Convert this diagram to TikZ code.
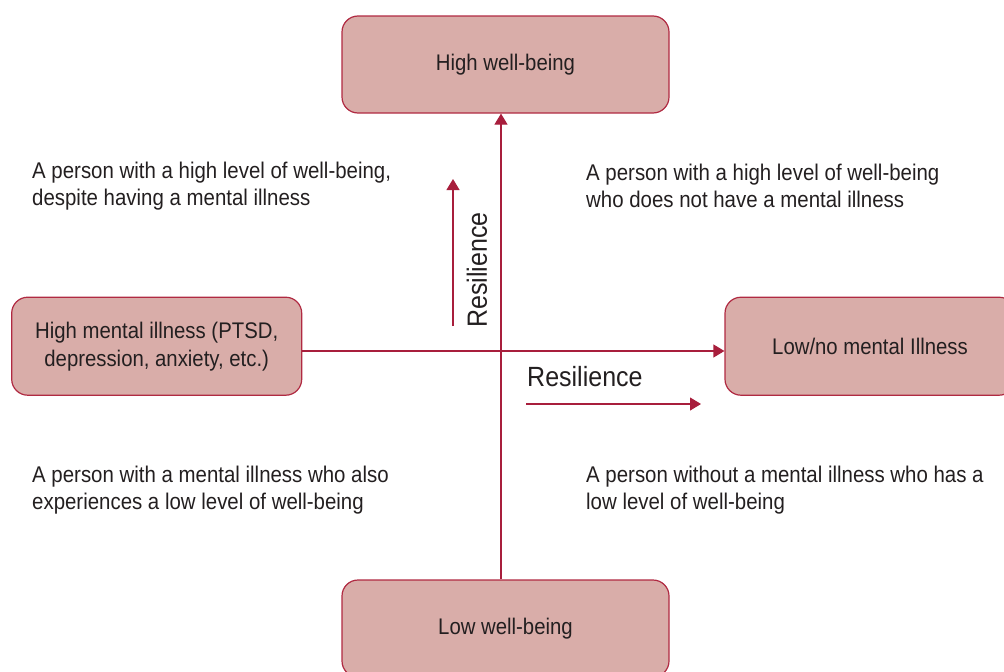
\documentclass[tikz,border=0pt]{standalone}
\usepackage{fontspec}
\setmainfont{Liberation Sans}[FakeStretch=0.9]
\usetikzlibrary{arrows.meta}
\definecolor{boxfill}{HTML}{D9ADA9}
\definecolor{boxline}{HTML}{B02A42}
\definecolor{arrowcol}{HTML}{A81E3C}
\definecolor{txt}{HTML}{231F20}
\tikzset{
  x=1pt,y=-1pt,
  quad/.style={draw=boxline,line width=1.2pt,fill=boxfill,rounded corners=16pt,
    minimum width=327pt,minimum height=97pt,text=txt,align=center,
    font=\fontsize{22.6}{28}\selectfont},
  note/.style={anchor=west,inner sep=0pt,align=left,text=txt,
    font=\fontsize{22.7}{27}\selectfont},
  tip/.style={-{Triangle[length=11pt,width=13pt]}},
  axis/.style={draw=arrowcol,line width=1.2pt,tip},
  resarrow/.style={draw=arrowcol,line width=1.2pt,tip},
  reslabel/.style={inner sep=0pt,text=txt,font=\fontsize{27.8}{30}\selectfont}
}
\begin{document}
\begin{tikzpicture}
\useasboundingbox (0,0) rectangle (1004,672);
\clip (0,0) rectangle (1004,672);
\node[quad] (hw) at (505.5,64.5) {High well-being};
\node[quad,minimum width=290pt,minimum height=98pt] (hmi) at (156.7,346.2) {High mental illness (PTSD,\\depression, anxiety, etc.)};
\node[quad,minimum width=290pt,minimum height=98pt] (lmi) at (870,346.2) {Low/no mental Illness};
\node[quad] (lw) at (505.5,628.5) {Low well-being};
\coordinate (vx) at (501,0);
\coordinate (hy) at (0,351);
\draw[axis] (lw.north -| vx) -- (hw.south -| vx);
\draw[axis] (hmi.east |- hy) -- (lmi.west |- hy);
\coordinate (ua) at (453,326);
\coordinate (ub) at (453,179);
\draw[resarrow] (ua) -- (ub);
\node[reslabel,rotate=90] (rv) at (477,270) {Resilience};
\coordinate (ra) at (526,404);
\coordinate (rb) at (701,404);
\draw[resarrow] (ra) -- (rb);
\node[reslabel,anchor=west] (rh) at (527,377) {Resilience};
\node[note] (tl) at (32,186) {A person with a high level of well-being,\\despite having a mental illness};
\node[note] (tr) at (586,186) {A person with a high level of well-being\\who does not have a mental illness};
\node[note] (bl) at (32,490) {A person with a mental illness who also\\experiences a low level of well-being};
\node[note] (br) at (586,490) {A person without a mental illness who has a\\low level of well-being};
\end{tikzpicture}
\end{document}
